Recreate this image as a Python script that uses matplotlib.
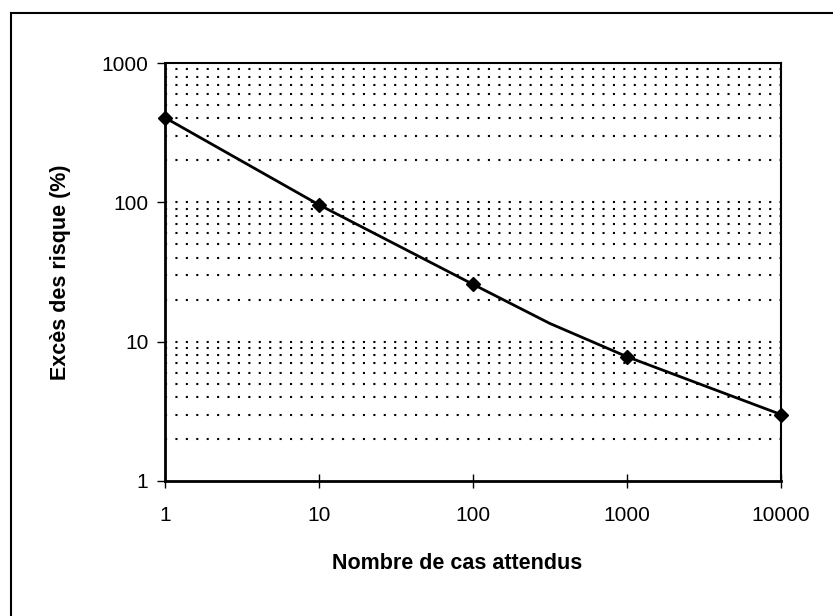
import numpy as np
import matplotlib
matplotlib.use('Agg')
import matplotlib.pyplot as plt
from matplotlib.lines import Line2D

plt.rcParams['font.family'] = ['Liberation Sans', 'DejaVu Sans']

# donnees
cas_attendus = [1, 10, 100, 316, 1000, 10000]
exces_risque = [405, 96, 25.8, 13.5, 7.8, 3.0]
marqueurs = [0, 1, 2, 4, 5]  # points avec losange
x_ticks = [1, 10, 100, 1000, 10000]
y_ticks = [1, 10, 100, 1000]

fig = plt.figure(figsize=(8.33, 6.16), dpi=100)
ax = fig.add_axes([165/833, 1 - 481/616, (781 - 165)/833, (481 - 63)/616])

# cadre exterieur (coupe a droite et en bas)
fig.add_artist(Line2D([11/833, 11/833], [0, 1 - 13/616], color='black', lw=1.5,
                      transform=fig.transFigure))
fig.add_artist(Line2D([11/833, 1], [1 - 13/616, 1 - 13/616], color='black', lw=1.5,
                      transform=fig.transFigure))

ax.set_xscale('log')
ax.set_yscale('log')
ax.set_xlim(1, 10000)
ax.set_ylim(1, 1000)

# lignes de grille pointillees
for dec in [1, 10, 100]:
    for k in range(2, 11):
        v = dec * k
        if v < 1000:
            ax.axhline(v, color='black', lw=1.5, linestyle=(0, (1, 4)), zorder=1)

ax.plot(cas_attendus, exces_risque, color='black', lw=2, marker='D', markersize=7,
        markevery=marqueurs, zorder=3, clip_on=False)

ax.set_xticks(x_ticks)
ax.set_xticklabels([str(v) for v in x_ticks])
ax.set_yticks(y_ticks)
ax.set_yticklabels([str(v) for v in y_ticks])
ax.xaxis.set_minor_locator(matplotlib.ticker.NullLocator())
ax.yaxis.set_minor_locator(matplotlib.ticker.NullLocator())
ax.tick_params(axis='x', direction='inout', length=10, width=1, labelsize=15, pad=13)
ax.tick_params(axis='y', direction='out', length=6, width=1, labelsize=15, pad=6)

for s in ['left', 'bottom']:
    ax.spines[s].set_linewidth(2)
for s in ['top', 'right']:
    ax.spines[s].set_linewidth(1.5)

ax.set_xlabel('Nombre de cas attendus', fontsize=15.5, fontweight='bold', labelpad=20)
ax.set_ylabel('Excès des risque (%)', fontsize=15.5, fontweight='bold', labelpad=22)
ax.xaxis.label.set_x(0.474)

plt.savefig('out.png', dpi=100)
